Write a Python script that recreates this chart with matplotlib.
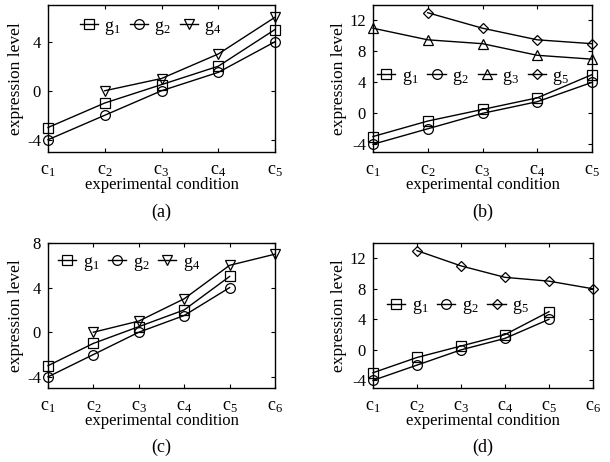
import matplotlib.pyplot as plt
import numpy as np

plt.rcParams['font.family'] = ['Liberation Serif', 'DejaVu Serif']
plt.rcParams['mathtext.fontset'] = 'custom'
plt.rcParams['mathtext.rm'] = 'Liberation Serif'
plt.rcParams['mathtext.it'] = 'Liberation Serif'

nan = np.nan
cond5 = ["c$_1$", "c$_2$", "c$_3$", "c$_4$", "c$_5$"]
cond6 = cond5 + ["c$_6$"]

g1 = [-3, -1, 0.5, 2, 5]
g2 = [-4, -2, 0, 1.5, 4]
g3 = [11, 9.5, 9, 7.5, 7]
g4_a = [nan, 0, 1, 3, 6]
g4_c = [nan, 0, 1, 3, 6, 7]
g5_b = [nan, 13, 11, 9.5, 9]
g5_d = [nan, 13, 11, 9.5, 9, 8]

markers = {"g1": "s", "g2": "o", "g3": "^", "g4": "v", "g5": "D"}
labels = {"g1": "g$_1$", "g2": "g$_2$", "g3": "g$_3$", "g4": "g$_4$", "g5": "g$_5$"}
msize = {"g1": 7, "g2": 7, "g3": 7, "g4": 7, "g5": 5.5}

panels = [
    ("(a)", cond5, [("g1", g1), ("g2", g2), ("g4", g4_a)], (-5, 7), [-4, 0, 4], (0.14, 0.85)),
    ("(b)", cond5, [("g1", g1), ("g2", g2), ("g3", g3), ("g5", g5_b)], (-5, 14), [-4, 0, 4, 8, 12], (0.02, 0.51)),
    ("(c)", cond6, [("g1", g1), ("g2", g2), ("g4", g4_c)], (-5, 8), [-4, 0, 4, 8], (0.045, 0.86)),
    ("(d)", cond6, [("g1", g1), ("g2", g2), ("g5", g5_d)], (-5, 14), [-4, 0, 4, 8, 12], (0.065, 0.56)),
]

fig = plt.figure(figsize=(6.1, 4.62), dpi=100)
W, H = 610, 462
boxes = [(48, 5, 275, 152), (373, 5, 592, 152), (48, 243, 275, 388), (373, 243, 593, 388)]

for (cap, conds, series, ylim, yt, legpos), (x0, y0, x1, y1) in zip(panels, boxes):
    ax = fig.add_axes([x0 / W, 1 - y1 / H, (x1 - x0) / W, (y1 - y0) / H])
    x = np.arange(1, len(conds) + 1)
    for name, vals in series:
        v = np.array(vals, dtype=float)
        ax.plot(x[:len(v)], v, color='black', lw=1, marker=markers[name],
                ms=msize[name], mfc='none', mec='black', mew=0.9,
                label=labels[name], clip_on=False)
    ax.set_xlim(1, len(conds))
    ax.set_ylim(*ylim)
    ax.set_xticks(x)
    ax.set_xticklabels(conds, fontsize=13)
    ax.set_yticks(yt)
    ax.set_yticklabels([str(t) for t in yt], fontsize=12)
    ax.tick_params(direction='in', length=3, top=True, right=True, width=0.8, pad=5)
    ax.tick_params(axis='x', pad=7)
    for s in ax.spines.values():
        s.set_linewidth(1.0)
    ax.set_ylabel("expression level", fontsize=12.5, labelpad=2)
    ax.set_xlabel("experimental condition", fontsize=12, labelpad=-1)
    ax.text(0.5, -0.41, cap, transform=ax.transAxes, ha='center', va='center', fontsize=13)
    ax.legend(loc='center left', bbox_to_anchor=legpos, ncol=len(series), frameon=False,
              fontsize=13, handlelength=1.0, handletextpad=0.35, columnspacing=0.5,
              borderaxespad=0, borderpad=0)

fig.savefig("out.png", dpi=100)
